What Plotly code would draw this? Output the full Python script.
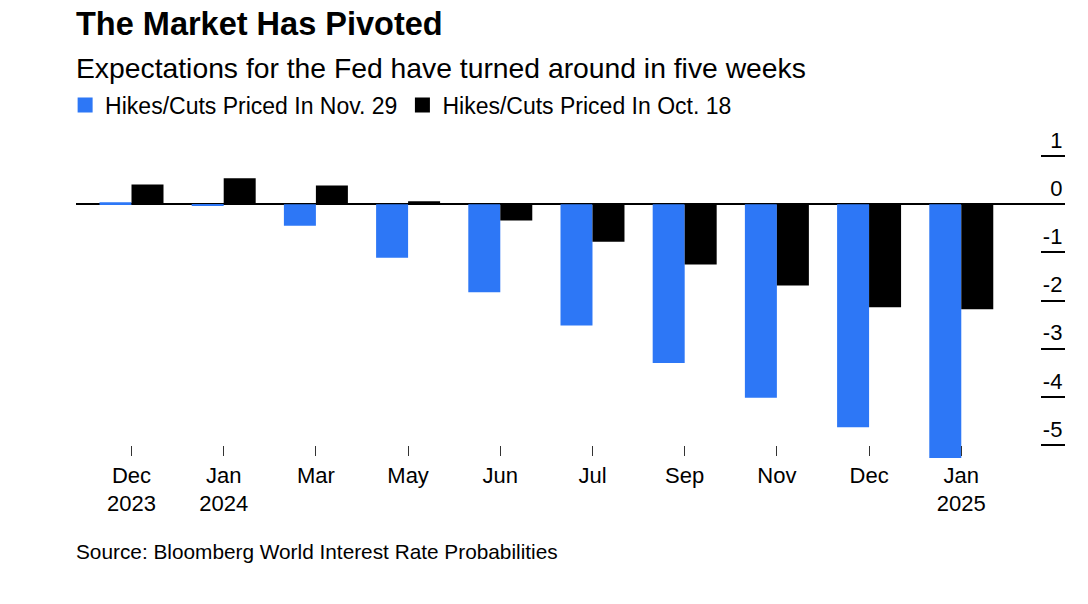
import plotly.graph_objects as go

categories = ["Dec<br>2023", "Jan<br>2024", "Mar", "May", "Jun", "Jul", "Sep", "Nov", "Dec", "Jan<br>2025"]
nov29 = [0.04, -0.02, -0.45, -1.11, -1.83, -2.52, -3.30, -4.02, -4.63, -5.27]
oct18 = [0.41, 0.54, 0.39, 0.06, -0.34, -0.78, -1.25, -1.69, -2.14, -2.18]
y_ticks = [1, 0, -1, -2, -3, -4, -5]
series_names = ["Hikes/Cuts Priced In Nov. 29", "Hikes/Cuts Priced In Oct. 18"]

BLUE = "#2d77f6"
BLACK = "#000000"
FONT = "Liberation Sans"

fig = go.Figure()
fig.add_trace(go.Bar(x=categories, y=nov29, marker=dict(color=BLUE, line=dict(width=0)),
                     showlegend=False, name=series_names[0]))
fig.add_trace(go.Bar(x=categories, y=oct18, marker=dict(color=BLACK, line=dict(width=0)),
                     showlegend=False, name=series_names[1]))
# legend entries with square swatches
for nm, col in zip(series_names, [BLUE, BLACK]):
    fig.add_trace(go.Scatter(x=[None], y=[None], mode="markers", name=nm,
                             marker=dict(symbol="square", size=15, color=col)))

fig.update_layout(
    width=1088, height=604,
    margin=dict(l=76, r=23, t=125, b=142),
    paper_bgcolor="white", plot_bgcolor="white",
    font=dict(family=FONT, color="black", size=22),
    barmode="group", bargap=0.306, bargroupgap=0,
    showlegend=True,
    legend=dict(orientation="h", x=-0.011, xanchor="left", y=1.0593, yanchor="middle",
                font=dict(size=23, family=FONT, color="black"),
                bgcolor="rgba(0,0,0,0)", borderwidth=0, itemclick=False),
    xaxis=dict(type="category", range=[-0.602, 10.125], showgrid=False, showline=False,
               zeroline=False, ticks="outside", ticklen=10, tickwidth=1, tickcolor="#333",
               anchor="free", position=0.0496,
               tickfont=dict(size=22, family=FONT, color="black")),
    yaxis=dict(range=[-5.354, 1.645], side="right", showgrid=False, showline=False,
               zeroline=True, zerolinecolor="black", zerolinewidth=1.5,
               tickvals=y_ticks, ticktext=[str(v) for v in y_ticks],
               ticks="inside", ticklen=24, tickwidth=1.5, tickcolor="black",
               ticklabelposition="inside", ticklabelshift=-16, ticklabelstandoff=-20,
               tickfont=dict(size=22, family=FONT, color="black")),
    annotations=[
        dict(text="<b>The Market Has Pivoted</b>", xref="paper", yref="paper", x=-0.002, y=1.2997,
             xanchor="left", yanchor="middle", showarrow=False,
             font=dict(size=32.5, family=FONT, color="black")),
        dict(text="Expectations for the Fed have turned around in five weeks", xref="paper",
             yref="paper", x=-0.002, y=1.1691, xanchor="left", yanchor="middle", showarrow=False,
             font=dict(size=28.3, family=FONT, color="black")),
        dict(text="Source: Bloomberg World Interest Rate Probabilities", xref="paper",
             yref="paper", x=-0.002, y=-0.2641, xanchor="left", yanchor="middle", showarrow=False,
             font=dict(size=20.8, family=FONT, color="black")),
    ],
)

fig.write_html("out.html")
